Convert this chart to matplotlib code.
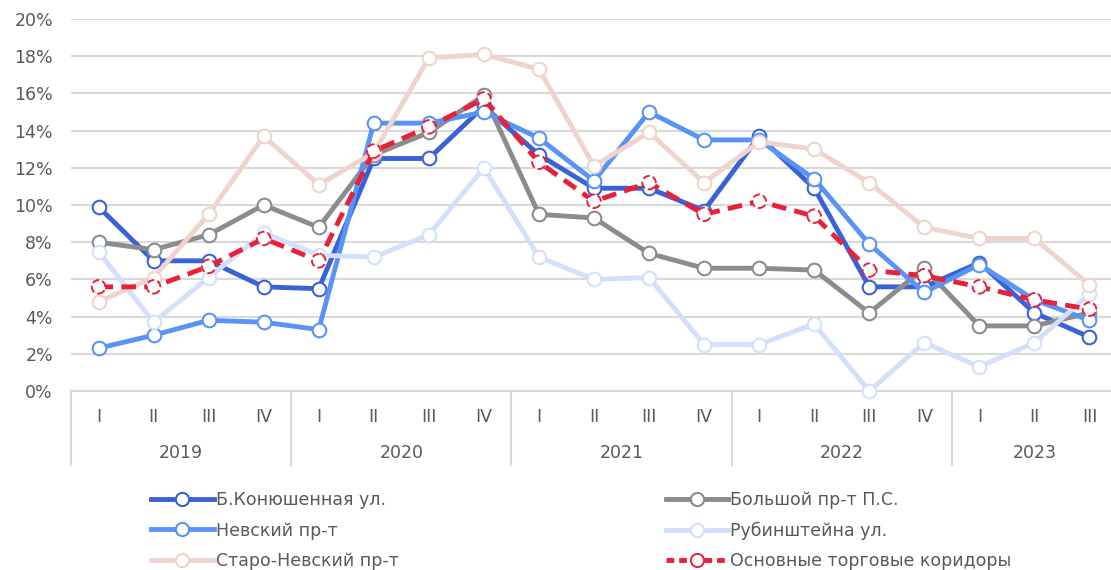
import matplotlib
matplotlib.use("Agg")
import matplotlib.pyplot as plt
import matplotlib.transforms as mtransforms
from matplotlib.lines import Line2D

# quarters / years
quarters = ["I", "II", "III", "IV"] * 4 + ["I", "II", "III"]
years = ["2019", "2020", "2021", "2022", "2023"]

# vacancy, %
konyush = [9.9, 7.0, 7.0, 5.6, 5.5, 12.5, 12.5, 15.3, 12.7, 10.9, 10.9, 9.7,
           13.7, 10.9, 5.6, 5.6, 6.9, 4.2, 2.9]
bolshoy = [8.0, 7.6, 8.4, 10.0, 8.8, 12.7, 13.9, 15.9, 9.5, 9.3, 7.4, 6.6,
           6.6, 6.5, 4.2, 6.6, 3.5, 3.5, 4.2]
nevsky = [2.3, 3.0, 3.8, 3.7, 3.3, 14.4, 14.4, 15.0, 13.6, 11.3, 15.0, 13.5,
          13.5, 11.4, 7.9, 5.3, 6.8, 4.9, 3.8]
rubin = [7.5, 3.7, 6.1, 8.5, 7.3, 7.2, 8.4, 12.0, 7.2, 6.0, 6.1, 2.5,
         2.5, 3.6, 0.0, 2.6, 1.3, 2.6, 5.2]
staro = [4.8, 6.1, 9.5, 13.7, 11.1, 12.8, 17.9, 18.1, 17.3, 12.1, 13.9, 11.2,
         13.4, 13.0, 11.2, 8.8, 8.2, 8.2, 5.7]
main = [5.6, 5.6, 6.7, 8.2, 7.0, 12.9, 14.2, 15.7, 12.3, 10.2, 11.2, 9.5,
        10.2, 9.4, 6.5, 6.2, 5.6, 4.9, 4.4]

names = ["Б.Конюшенная ул.", "Большой пр-т П.С.", "Невский пр-т",
         "Рубинштейна ул.", "Старо-Невский пр-т", "Основные торговые коридоры"]
series = [konyush, bolshoy, nevsky, rubin, staro, main]
colors = ["#3a62d8", "#8c8c8e", "#5893f5", "#d3e0fb", "#eed4cd", "#e8203a"]

txt = "#595959"
fs = 12.5
plt.rcParams["font.family"] = ["DejaVu Sans"]

fig = plt.figure(figsize=(11.11, 5.70), dpi=100)
ax = fig.add_axes([71 / 1111, 179 / 570, 1046 / 1111, 372 / 570])

x = list(range(len(quarters)))
handles = []
for name, vals, c in zip(names, series, colors):
    if name == names[-1]:
        ax.plot(x, vals, color=c, lw=3.5, ls=(0, (3.0, 1.7)), zorder=5,
                clip_on=False)
        ax.scatter(x, vals, s=95, facecolor="white", edgecolor=c,
                   linewidths=1.4, linestyle="--", zorder=6, clip_on=False)
        h = Line2D([], [], color=c, lw=3.5, ls=(0, (1.6, 1.0)), marker="o",
                   ms=9.5, mfc="white", mec=c, mew=1.4)
    else:
        ax.plot(x, vals, color=c, lw=3.5, marker="o", ms=9.8, mfc="white",
                mec=c, mew=1.5, clip_on=False, zorder=3)
        h = Line2D([], [], color=c, lw=3.5, marker="o", ms=9.5, mfc="white",
                   mec=c, mew=1.5)
    handles.append(h)

ax.set_xlim(-0.5, len(quarters) - 0.5)
ax.set_ylim(0, 20)
ax.set_yticks(range(0, 21, 2))
ax.set_yticklabels([f"{v}%" for v in range(0, 21, 2)])
ax.grid(axis="y", color="#d9d9d9", lw=1.5)
ax.set_axisbelow(True)
for s in ["top", "right", "left"]:
    ax.spines[s].set_visible(False)
ax.spines["bottom"].set_color("#d9d9d9")
ax.spines["bottom"].set_linewidth(1.5)

ax.set_xticks(x)
ax.set_xticklabels(quarters)
ax.tick_params(axis="x", length=0, pad=12, labelsize=fs, labelcolor=txt)
ax.tick_params(axis="y", length=0, pad=13, labelsize=fs, labelcolor=txt)

# year separators and labels
trans = mtransforms.blended_transform_factory(ax.transData, ax.transAxes)
for b in [-0.5, 3.5, 7.5, 11.5, 15.5]:
    ax.plot([b, b], [0, -74 / 372], color="#d9d9d9", lw=1.5,
            transform=trans, clip_on=False)
year_pos = [1.5, 5.5, 9.5, 13.5, 17]
for yr, p in zip(years, year_pos):
    ax.text(p, -62 / 372, yr, transform=trans, ha="center", va="center",
            fontsize=fs, color=txt)

order = [0, 2, 4, 1, 3, 5]
fig.legend([handles[i] for i in order], [names[i] for i in order],
           loc="upper left", bbox_to_anchor=(151 / 1111, 1 - 491 / 570),
           ncol=2, frameon=False, fontsize=fs, labelcolor=txt,
           handlelength=3.6, handletextpad=0.12, columnspacing=15.4,
           labelspacing=0.72, borderpad=0, borderaxespad=0)

fig.savefig("out.png", dpi=100)
